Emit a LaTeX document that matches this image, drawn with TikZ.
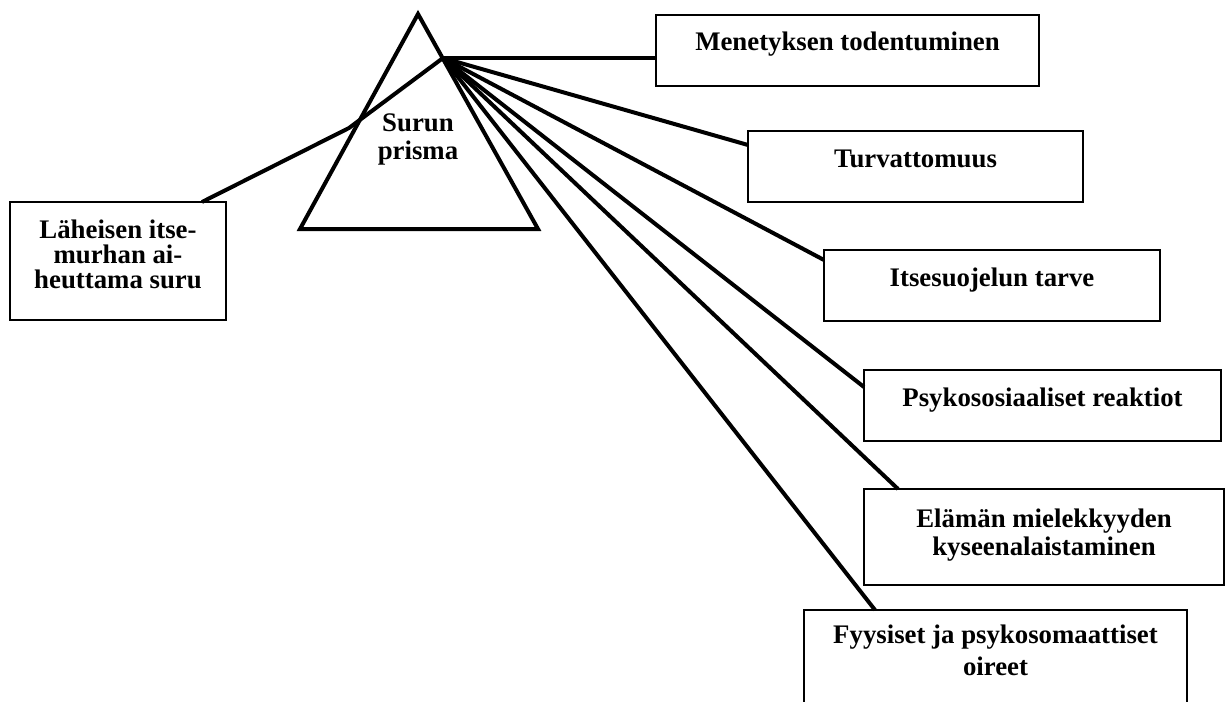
\documentclass[tikz,border=0pt]{standalone}
\usepackage{fontspec}
\setmainfont{Liberation Serif}
\usetikzlibrary{positioning}
\begin{document}
\begin{tikzpicture}[x=1pt,y=-1pt,
  box/.style={draw,line width=1.4pt,outer sep=0pt,inner sep=0pt,anchor=north west},
  txt/.style={align=center,inner sep=0pt,font=\fontsize{26.8}{27}\selectfont\bfseries},
  ray/.style={line width=4pt}]
\path[use as bounding box,fill=white] (0,0) rectangle (1230,701);
\clip (0,0) rectangle (1230,701);
\draw[ray,line join=miter] (418,14) coordinate (apex) -- (538,229) coordinate (rbase) -- (300,229) coordinate (lbase) -- cycle;
\coordinate (focus) at (443,58);
\coordinate (bend) at (349,128);
\node[txt,anchor=north,font=\fontsize{26.8}{28}\selectfont\bfseries] (prism) at (418,114) {Surun\\prisma};
\node[box,minimum width=216pt,minimum height=118pt] (loss) at (10,202) {};
\node[box,minimum width=383pt,minimum height=71pt] (real) at (656,15) {};
\node[box,minimum width=335pt,minimum height=71pt] (insecure) at (748,131) {};
\node[box,minimum width=336pt,minimum height=71pt] (protect) at (824,250) {};
\node[box,minimum width=357pt,minimum height=71pt] (psysoc) at (864,370) {};
\node[box,minimum width=360pt,minimum height=96pt] (meaning) at (864,489) {};
\node[box,minimum width=383pt,minimum height=120pt] (somatic) at (804,610) {};
\node[txt,below=17.5pt of loss.north,font=\fontsize{26.8}{25}\selectfont\bfseries] (loss-t) {Läheisen itse-\\murhan ai-\\heuttama suru};
\node[txt,below=16.5pt of real.north] (real-t) {Menetyksen todentuminen};
\node[txt,below=18.5pt of insecure.north] (insecure-t) {Turvattomuus};
\node[txt,below=17.5pt of protect.north] (protect-t) {Itsesuojelun tarve};
\node[txt,below=17.5pt of psysoc.north] (psysoc-t) {Psykososiaaliset reaktiot};
\node[txt,below=19.5pt of meaning.north,font=\fontsize{26.8}{28}\selectfont\bfseries] (meaning-t) {Elämän mielekkyyden\\kyseenalaistaminen};
\node[txt,below=14.5pt of somatic.north,font=\fontsize{26.8}{32}\selectfont\bfseries] (somatic-t) {Fyysiset ja psykosomaattiset\\oireet};
\draw[ray] ([xshift=-24pt]loss.north east) -- (bend) -- (focus);
\draw[ray] (focus) -- (focus -| real.west);
\foreach \b/\dx/\dy in {insecure/0/14,protect/0/10,psysoc/0/17,meaning/34/0,somatic/71/0}
  {\draw[ray] (focus) -- ([shift={(\dx pt,-\dy pt)}]\b.north west);}
\end{tikzpicture}
\end{document}
